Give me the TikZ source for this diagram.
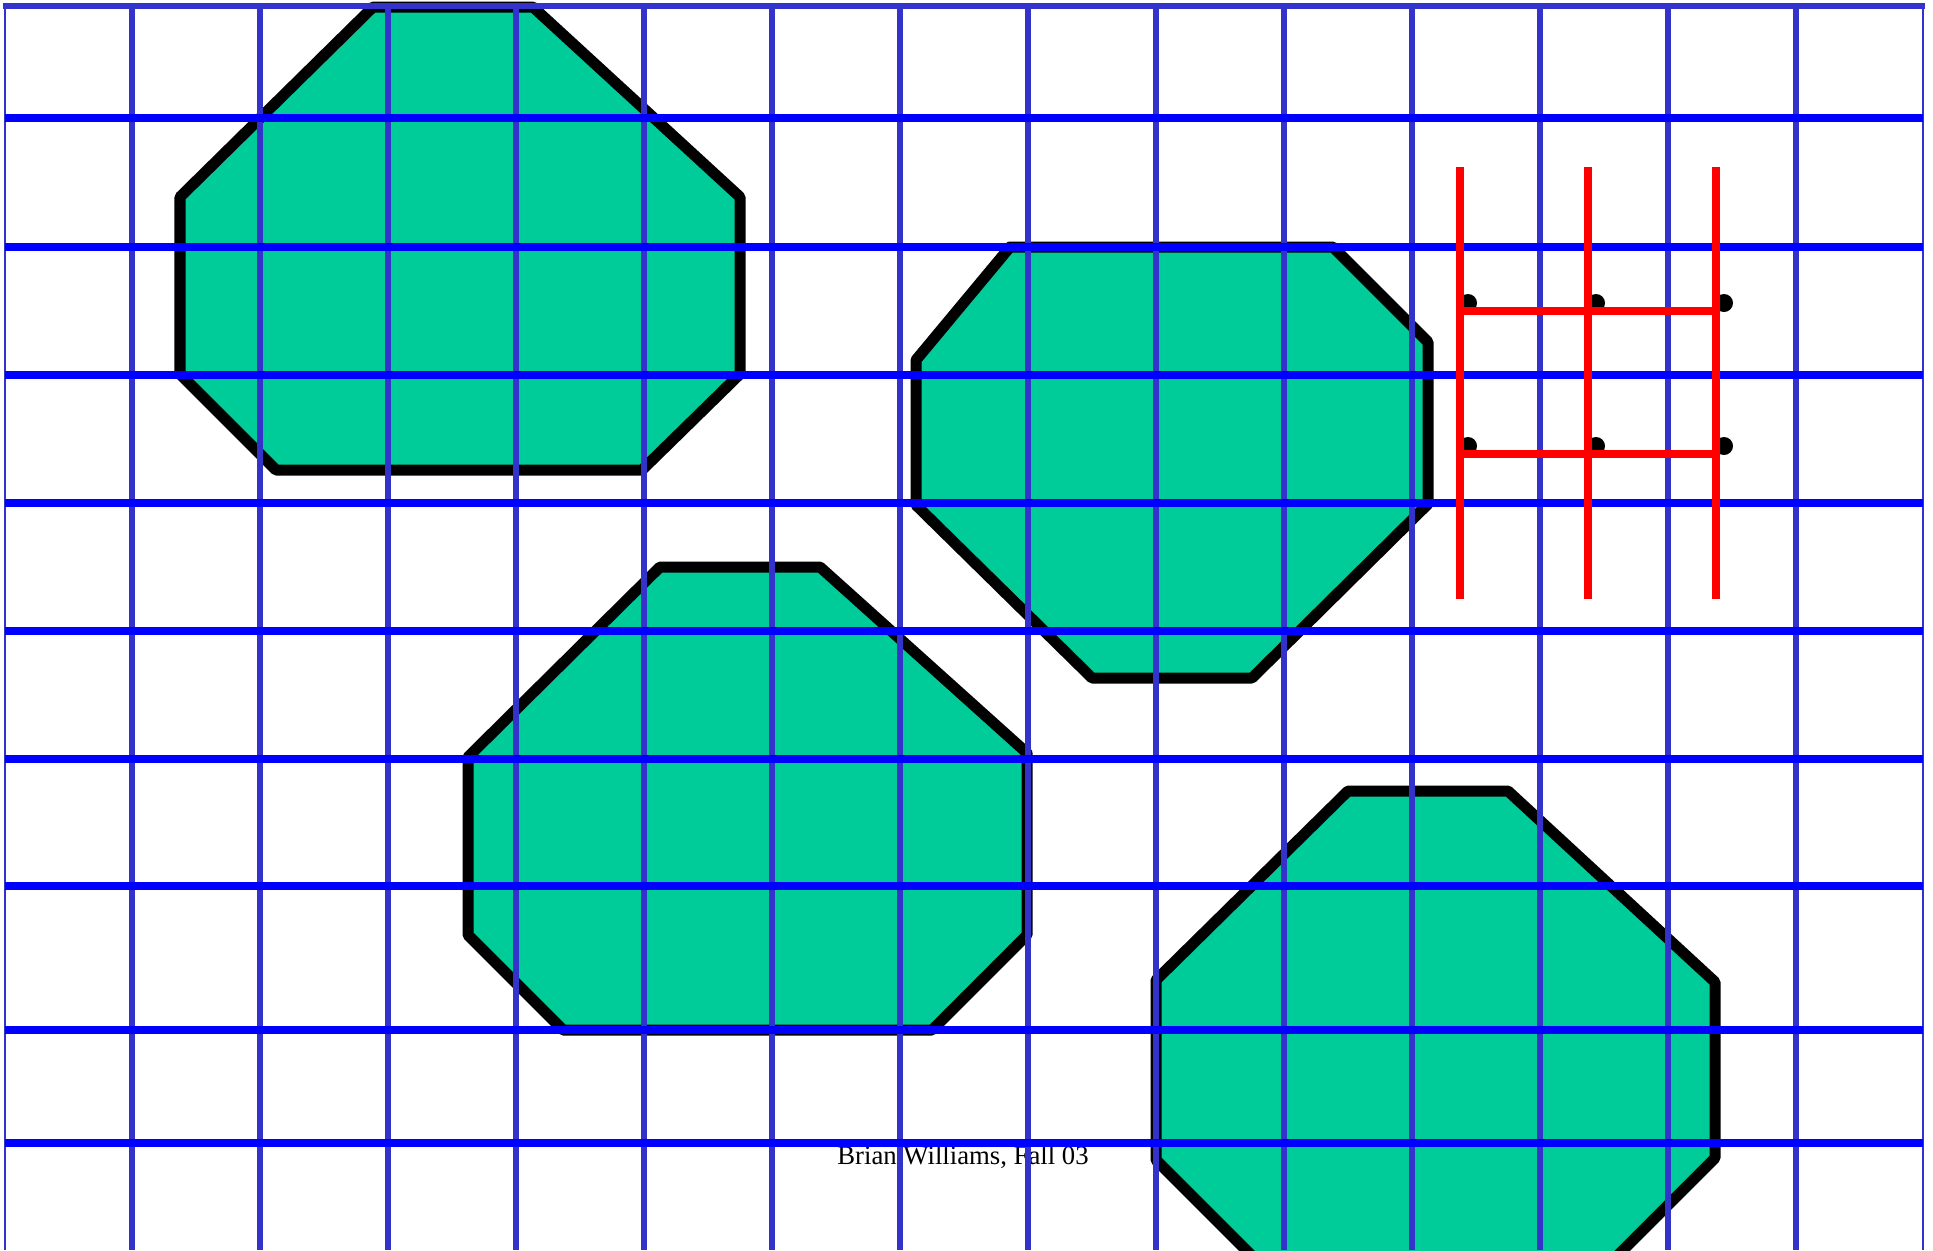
\documentclass[tikz,border=0pt]{standalone}
\usepackage{fontspec}
\setmainfont{Liberation Serif}
\definecolor{gridv}{HTML}{3333CC}
\definecolor{gridh}{HTML}{0000FF}
\definecolor{octfill}{HTML}{00CC99}
\tikzset{
  octagon/.style={fill=octfill, draw=black, line width=0.11cm, line join=round},
  vline/.style={draw=gridv, line width=0.06cm},
  hline/.style={draw=gridh, line width=0.075cm},
  redline/.style={draw=red, line width=0.075cm},
  dotmark/.style={fill=black},
}
\begin{document}
\begin{tikzpicture}[x=0.01cm, y=-0.01cm]
\useasboundingbox (0,0) rectangle (1933,1250);
\fill[white] (0,0) rectangle (1933,1250);
\clip (0,0) rectangle (1933,1250);
% octagons
\draw[octagon] (373,7) -- (533,7) -- (740,197) -- (740,374) -- (642,470) -- (276,470) -- (180,374) -- (180,197) -- cycle;
\draw[octagon] (1010,247) -- (1333,247) -- (1428,342) -- (1428,504) -- (1252,678) -- (1092,678) -- (916,505) -- (916,360) -- cycle;
\draw[octagon] (660,567) -- (820,567) -- (1027,753) -- (1027,935) -- (932,1030) -- (563,1030) -- (468,935) -- (468,757) -- cycle;
\draw[octagon] (1348,791) -- (1508,791) -- (1715,982) -- (1715,1158) -- (1611,1262) -- (1258,1262) -- (1156,1160) -- (1156,980) -- cycle;
% caption
\node[anchor=base, inner sep=0pt, font=\fontsize{7.6pt}{8.5pt}\selectfont] (caption) at (963,1164) {Brian Williams, Fall 03};
% vertical grid lines
\foreach \x in {132,260,388,516,644,772,900,1028,1156,1284,1412,1540,1668,1796}
  \draw[vline] (\x,6) -- (\x,1250);
\draw[draw=gridv, line width=0.02cm] (5,6) -- (5,1250);
\draw[draw=gridv, line width=0.02cm] (1923,6) -- (1923,1250);
\draw[draw=gridv, line width=0.055cm] (3,6) -- (1925,6);
% horizontal grid lines
\foreach \y in {118,247,375,503,631,759,886,1030,1143}
  \draw[hline] (5,\y) -- (1923,\y);
% dots
\foreach \x in {1468,1596,1724}
  \foreach \y in {303,446}
    \fill[dotmark] (\x,\y) circle (9);
% red lattice
\foreach \x in {1460,1588,1716}
  \draw[redline] (\x,167) -- (\x,599);
\foreach \y in {311,454}
  \draw[redline] (1460,\y) -- (1716,\y);
\end{tikzpicture}
\end{document}
